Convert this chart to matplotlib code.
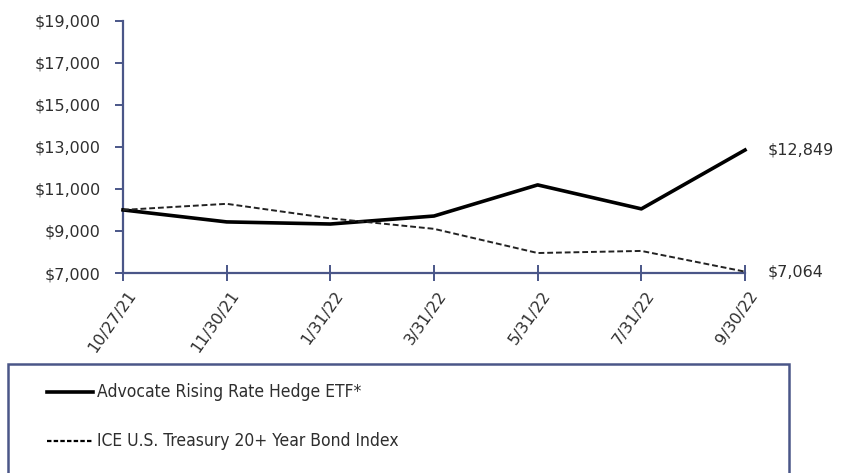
import matplotlib
matplotlib.use("Agg")
import matplotlib.pyplot as plt
from matplotlib.patches import Rectangle
from matplotlib.lines import Line2D

dates = ["10/27/21", "11/30/21", "1/31/22", "3/31/22", "5/31/22", "7/31/22", "9/30/22"]
fund = [10000, 9430, 9330, 9710, 11190, 10050, 12849]
index = [10000, 10290, 9600, 9100, 7950, 8050, 7064]
yticks = [7000, 9000, 11000, 13000, 15000, 17000, 19000]
fund_name = "Advocate Rising Rate Hedge ETF*"
index_name = "ICE U.S. Treasury 20+ Year Bond Index"

W, H = 841, 473
fig = plt.figure(figsize=(W / 100, H / 100), dpi=100)
axc = "#4a5688"
txt = "#2e2e2e"

left, right, top, bottom = 123, 745, 20.7, 273
ax = fig.add_axes([left / W, 1 - bottom / H, (right - left) / W, (bottom - top) / H])
x = list(range(len(dates)))
ax.plot(x, fund, color="black", lw=2.6, solid_joinstyle="round", clip_on=False, zorder=3)
ax.plot(x, index, color="#222222", lw=1.4, ls=(0, (3, 1.5)), clip_on=False, zorder=3)
ax.set_xlim(0, len(dates) - 1)
ax.set_ylim(7000, 19000)
ax.set_yticks(yticks)
ax.set_yticklabels([f"${v:,.0f}" for v in yticks], fontsize=11.5, color=txt)
ax.set_xticks(x)
ax.set_xticklabels([])
for i, d in zip(x, dates):
    ax.annotate(d, xy=(i, 0), xycoords=ax.get_xaxis_transform(), xytext=(7, -14),
                textcoords="offset points", rotation=55, ha="right", va="center",
                rotation_mode="anchor", fontsize=11.5, color=txt, annotation_clip=False)
for s in ["top", "right"]:
    ax.spines[s].set_visible(False)
for s in ["left", "bottom"]:
    ax.spines[s].set_color(axc)
    ax.spines[s].set_linewidth(1.6)
ax.tick_params(axis="y", direction="out", length=6, width=1.4, color=axc, pad=10)
ax.tick_params(axis="x", direction="inout", length=12, width=1.4, color=axc)

ax.annotate(f"${fund[-1]:,}", xy=(x[-1], fund[-1]), xytext=(16, 0), textcoords="offset points",
            va="center", ha="left", fontsize=11.5, color=txt, annotation_clip=False)
ax.annotate(f"${index[-1]:,}", xy=(x[-1], index[-1]), xytext=(16, 0), textcoords="offset points",
            va="center", ha="left", fontsize=11.5, color=txt, annotation_clip=False)

# legend box
bx0, by0, bx1 = 8, 364, 789
fig.patches.append(Rectangle((bx0 / W, -0.05), (bx1 - bx0) / W, 1 - by0 / H + 0.05,
                             transform=fig.transFigure, fill=False, edgecolor=axc, lw=1.8))
for yy, ls, lw, name in [(392, "-", 2.6, fund_name), (441, (0, (2, 1)), 1.6, index_name)]:
    fig.add_artist(Line2D([47 / W, 93 / W], [1 - yy / H, 1 - yy / H], color="black",
                          lw=lw, ls=ls, transform=fig.transFigure))
    fig.text(97 / W, 1 - yy / H, name, fontsize=12.5, family="DejaVu Sans", stretch="condensed",
             color=txt, va="center", ha="left")

fig.savefig("out.png", dpi=100)
